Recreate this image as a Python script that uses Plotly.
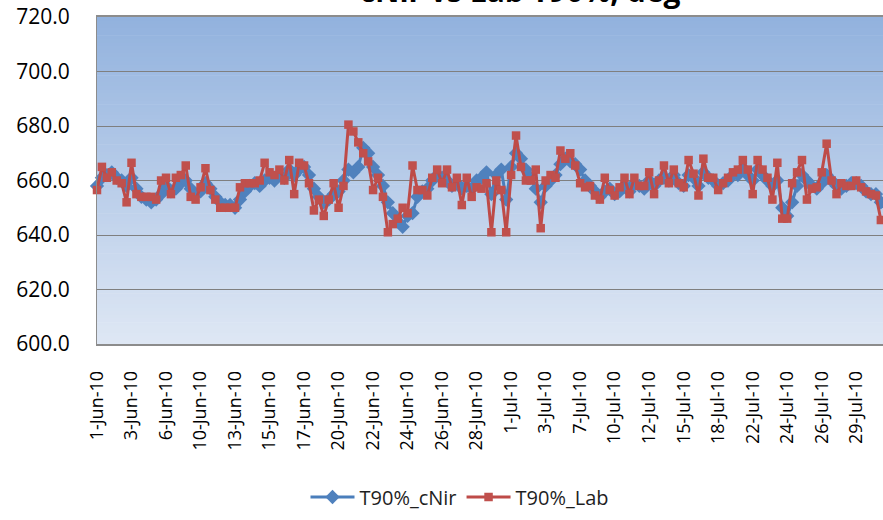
import plotly.graph_objects as go

# Category tick labels (one label every 7 samples)
tick_labels = [
    "1-Jun-10", "3-Jun-10", "6-Jun-10", "10-Jun-10", "13-Jun-10", "15-Jun-10",
    "17-Jun-10", "20-Jun-10", "22-Jun-10", "24-Jun-10", "26-Jun-10", "28-Jun-10",
    "1-Jul-10", "3-Jul-10", "7-Jul-10", "10-Jul-10", "12-Jul-10", "15-Jul-10",
    "18-Jul-10", "22-Jul-10", "24-Jul-10", "26-Jul-10", "29-Jul-10",
]
label_step = 7

# T90% from the cNir analyser, degF
t90_cnir = [
    658, 661, 662, 663, 661, 660, 658, 661, 657, 654,
    653, 652, 653, 655, 658, 656, 657, 659, 660, 657,
    655, 656, 659, 657, 654, 652, 651, 651, 650, 653,
    656, 658, 659, 658, 660, 661, 660, 662, 661, 664,
    662, 664, 665, 662, 657, 654, 652, 653, 655, 656,
    660, 664, 663, 665, 672, 670, 665, 662, 658, 652,
    648, 645, 643, 647, 648, 654, 656, 657, 660, 662,
    661, 660, 658, 659, 657, 658, 657, 660, 661, 663,
    655, 662, 664, 653, 665, 670, 668, 664, 661, 657,
    652, 658, 660, 662, 666, 668, 667, 666, 664, 660,
    658, 656, 654, 656, 657, 655, 656, 658, 656, 659,
    658, 657, 660, 658, 660, 661, 660, 662, 659, 658,
    662, 661, 658, 663, 661, 660, 658, 659, 660, 662,
    662, 664, 662, 660, 664, 662, 660, 658, 660, 650,
    647, 652, 658, 662, 660, 658, 657, 659, 662, 660,
    658, 657, 658, 659, 659, 658, 656, 655, 655, 652,
]

# T90% from laboratory analysis, degF
t90_lab = [
    656.5, 665, 661, 663, 660, 659, 652, 666.5, 655, 654,
    654, 654, 653, 660, 661, 655, 661, 662, 665.5, 654,
    653, 657.5, 664.5, 656.5, 653, 650, 650, 650, 650, 657.5,
    659, 659, 659, 660, 666.5, 663, 662, 664, 660, 667.5,
    655, 666.5, 665.5, 659, 649, 653, 647, 653, 659, 650,
    658, 680.5, 678, 674, 670, 667, 656.5, 661, 654, 641,
    644, 646, 650, 648, 665.5, 656.5, 656.5, 654.5, 661, 664,
    659, 664, 657.5, 661, 651, 661, 654, 657.5, 657, 659,
    641, 660, 656.5, 641, 662, 676.5, 665, 660, 660, 664,
    642.5, 660, 662, 661, 671, 668, 670, 665.5, 659, 657.5,
    658, 654.5, 653, 661, 656.5, 654.5, 657.5, 661, 655, 661,
    658, 658, 663, 655, 660, 665.5, 659, 664, 659, 657.5,
    667.5, 662.5, 654.5, 668, 661, 661, 656.5, 659, 661, 663,
    664, 667.5, 664, 655, 667.5, 664, 661, 653, 666.5, 646,
    646, 659, 663, 667.5, 653, 657, 657.5, 663, 673.5, 660,
    655, 659, 658, 658, 660, 657.5, 656, 655, 654.5, 645.5,
]

x_idx = list(range(len(t90_lab)))
tick_pos = [i * label_step for i in range(len(tick_labels))]

W, H = 883, 520
M_L, M_R, M_T, M_B = 97, 0, 17, 176
plot_w = W - M_L - M_R
plot_h = H - M_T - M_B

fig = go.Figure()

fig.add_trace(go.Scatter(
    x=x_idx, y=t90_cnir, name="T90%_cNir", mode="lines+markers",
    line=dict(color="#4A7EBB", width=3),
    marker=dict(symbol="diamond", size=11, color="#4F81BD"),
    cliponaxis=False,
))
fig.add_trace(go.Scatter(
    x=x_idx, y=t90_lab, name="T90%_Lab", mode="lines+markers",
    line=dict(color="#BE4B48", width=3),
    marker=dict(symbol="square", size=8.5, color="#C0504D"),
    cliponaxis=False,
))

# Vertical gradient fill for the plotting area
top_rgb = (146, 178, 222)
bot_rgb = (222, 231, 244)
n_bands = 90
shapes = []
for b in range(n_bands):
    t = b / (n_bands - 1)
    r = round(top_rgb[0] + (bot_rgb[0] - top_rgb[0]) * t)
    g = round(top_rgb[1] + (bot_rgb[1] - top_rgb[1]) * t)
    bl = round(top_rgb[2] + (bot_rgb[2] - top_rgb[2]) * t)
    y1 = 1 - b / n_bands
    y0 = 1 - (b + 1) / n_bands
    shapes.append(dict(
        type="rect", xref="paper", yref="paper", x0=0, x1=1.02, y0=y0 - 0.002, y1=y1,
        fillcolor=f"rgb({r},{g},{bl})", line=dict(width=0), layer="below",
    ))

x_max = plot_w / 4.93

fig.update_layout(
    width=W, height=H,
    margin=dict(l=M_L, r=M_R, t=M_T, b=M_B, autoexpand=False),
    paper_bgcolor="white",
    plot_bgcolor="rgba(0,0,0,0)",
    shapes=shapes,
    font=dict(family="Open Sans", color="#000000"),
    title=dict(
        text="<b>cNir vs Lab T90%, deg</b>",
        font=dict(family="Open Sans", size=30, color="#000000"),
        x=(520) / W, xanchor="center", xref="container",
        y=1 - 2 / H, yanchor="bottom", yref="container",
        automargin=False,
    ),
    showlegend=True,
    legend=dict(
        orientation="h", x=(460 - M_L) / plot_w, xanchor="center",
        y=(M_T + plot_h - 497) / plot_h, yanchor="middle",
        font=dict(family="Open Sans", size=20, color="#1F1F1F"),
        bgcolor="rgba(0,0,0,0)", itemwidth=44,
    ),
    xaxis=dict(
        range=[0, x_max],
        tickmode="array", tickvals=tick_pos, ticktext=tick_labels,
        tickangle=-90, tickfont=dict(family="Open Sans", size=18, color="#000000"),
        showgrid=False, zeroline=False,
        showline=True, linecolor="#8C8C8C", linewidth=1.5, mirror=True,
        ticks="", ticklabelstandoff=18,
    ),
    yaxis=dict(
        range=[600, 720], dtick=20, tick0=600, tickformat=".1f",
        tickfont=dict(family="Open Sans", size=21, color="#000000"),
        showgrid=True, gridcolor="#7F7F7F", gridwidth=1.2,
        zeroline=False, showline=True, linecolor="#8C8C8C", linewidth=1,
        ticks="", ticklabelstandoff=22,
    ),
)

fig.write_html("out.html")
